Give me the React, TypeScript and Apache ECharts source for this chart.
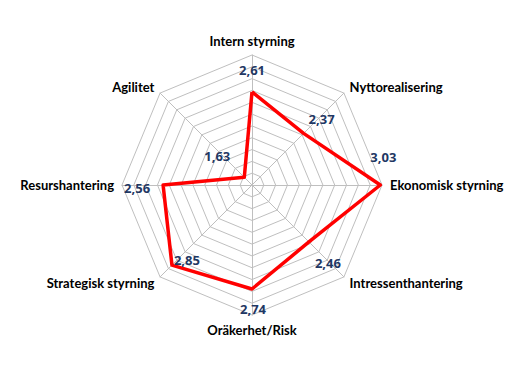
import React, { useEffect, useRef } from "react";
import * as echarts from "echarts";

// ECharts places radar indicators counter-clockwise from the top
const indicatorNames = [
  "Intern styrning",
  "Agilitet",
  "Resurshantering",
  "Strategisk styrning",
  "Oräkerhet/Risk",
  "Intressenthantering",
  "Ekonomisk styrning",
  "Nyttorealisering",
];
const scores = [2.61, 1.63, 2.56, 2.85, 2.74, 2.46, 3.03, 2.37];
const axisMin = 1.5;
const axisMax = 3.05;

// label placement relative to each vertex (layout only)
const labelOffsets: number[][] = [
  [0, -22],
  [-27, -21],
  [-26, 3],
  [15, -5],
  [1, 20],
  [19, 21],
  [3, -28],
  [18, -14],
];

const fmt = (v: number) => v.toFixed(2).replace(".", ",");

export default function App() {
  const ref = useRef<HTMLDivElement>(null);
  useEffect(() => {
    if (!ref.current) return;
    const chart = echarts.init(ref.current, undefined, { renderer: "svg" });
    const labelItems = scores.map((_, k) => ({
      value: scores,
      symbol: "circle",
      symbolSize: 0,
      itemStyle: { color: "rgba(0,0,0,0)" },
      lineStyle: { width: 0, opacity: 0 },
      label: {
        show: true,
        position: "inside",
        offset: labelOffsets[k],
        color: "#1F3864",
        fontWeight: "bold",
        fontSize: 13,
        fontFamily: "Open Sans",
        formatter: (p: any) => {
          const dim = p.dimensionIndex != null ? p.dimensionIndex : scores.indexOf(p.value);
          return dim === k ? fmt(scores[k]) : "";
        },
      },
    }));
    chart.setOption({
      animation: false,
      backgroundColor: "#ffffff",
      radar: {
        center: [252, 185],
        radius: 130,
        startAngle: 90,
        shape: "polygon",
        splitNumber: 11,
        indicator: indicatorNames.map((n) => ({ name: n, min: axisMin, max: axisMax })),
        axisName: {
          color: "#000000",
          fontWeight: "bold",
          fontSize: 13,
          fontFamily: "Lato",
        },
        nameGap: 8,
        splitLine: { lineStyle: { color: "#BFBFBF", width: 1 } },
        axisLine: { lineStyle: { color: "#BFBFBF", width: 1 } },
        splitArea: { show: false },
        axisTick: { show: false },
        axisLabel: { show: false },
      },
      series: [
        {
          type: "radar",
          silent: true,
          data: [
            {
              value: scores,
              symbol: "none",
              lineStyle: { color: "#FF0000", width: 3.5 },
              label: { show: false },
            },
            ...labelItems,
          ],
        },
      ],
    });
    return () => chart.dispose();
  }, []);
  return (
    <div
      ref={ref}
      style={{ position: "absolute", left: 0, top: 0, width: 531, height: 369 }}
    />
  );
}
